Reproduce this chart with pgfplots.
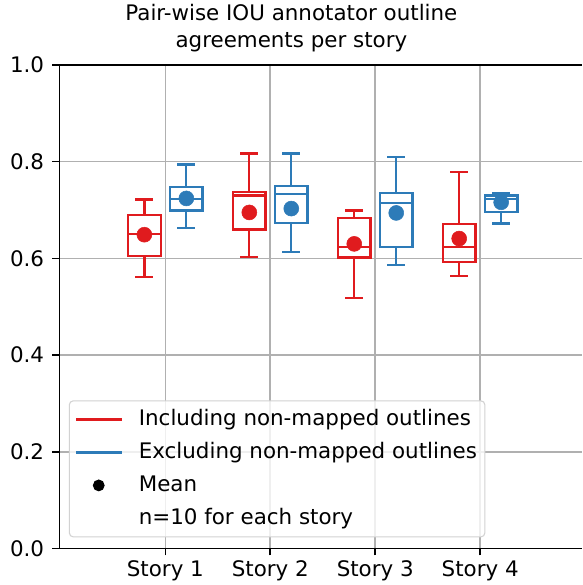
\documentclass[border=0pt]{standalone}
\usepackage{fontspec}
\setmainfont{DejaVu Sans}
\usepackage{pgfplots}
\pgfplotsset{compat=1.18}
\usepgfplotslibrary{statistics}
\definecolor{tabred}{RGB}{224,27,30}
\definecolor{tabblue}{RGB}{45,123,184}
\definecolor{gridgray}{RGB}{176,176,176}
\newcommand\ff{\fontsize{16}{20.25}\selectfont}
\pgfplotsset{
  longline/.style={legend image code/.code={\draw[##1, line width=2pt] (0pt,0pt) -- (34.5pt,0pt);}},
  dotimg/.style={legend image code/.code={\draw[##1, fill opacity=1] plot coordinates {(17pt,0pt)};}},
  bx/.style={forget plot, line width=1.7pt, boxplot prepared={draw direction=y, box extend=0.31, whisker extend=0.17, #1}},
}
\begin{document}
\begin{tikzpicture}
\begin{axis}[
  scale only axis, width=390.75pt, height=361.5pt,
  xmin=-0.01, xmax=4.97, ymin=0, ymax=1,
  axis x line=box, axis y line=left,
  axis line style={black, line width=1.2pt, -},
  xtick pos=bottom, ytick pos=left, tick align=outside,
  major tick length=5.25pt,
  tick style={black, line width=1.2pt},
  grid=major, major grid style={gridgray, line width=1.2pt},
  xtick={1,2,3,4}, xticklabels={Story 1,Story 2,Story 3,Story 4},
  ytick={0,0.2,0.4,0.6,0.8,1.0}, yticklabels={0.0,0.2,0.4,0.6,0.8,1.0},
  tick label style={font=\ff},
  yticklabel style={inner xsep=7.5pt, xshift=1.5pt},
  title={Pair-wise IOU annotator outline\\agreements per story},
  title style={font=\ff, align=center, at={(0.444,1)}, anchor=south},
  legend style={at={(0.018,0.0228)}, anchor=south west, font=\ff,
    fill=white, fill opacity=0.8, text opacity=1, draw=gray!35, line width=0.8pt,
    rounded corners=3pt, inner xsep=4pt, inner ysep=3.5pt, row sep=4.25pt,
    /tikz/every odd column/.append style={column sep=9.5pt},
    nodes={text height=13pt, text depth=3.5pt}},
  legend cell align=left,
]
% Including (red)
\addplot[tabred, bx={draw position=0.8, lower whisker=0.562, lower quartile=0.605, median=0.651, upper quartile=0.689, upper whisker=0.722}] coordinates {};
\addplot[tabred, bx={draw position=1.8, lower whisker=0.603, lower quartile=0.660, median=0.730, upper quartile=0.737, upper whisker=0.817}] coordinates {};
\addplot[tabred, bx={draw position=2.8, lower whisker=0.518, lower quartile=0.602, median=0.624, upper quartile=0.683, upper whisker=0.699}] coordinates {};
\addplot[tabred, bx={draw position=3.8, lower whisker=0.564, lower quartile=0.593, median=0.624, upper quartile=0.671, upper whisker=0.779}] coordinates {};
% Excluding (blue)
\addplot[tabblue, bx={draw position=1.2, lower whisker=0.663, lower quartile=0.699, median=0.723, upper quartile=0.748, upper whisker=0.794}] coordinates {};
\addplot[tabblue, bx={draw position=2.2, lower whisker=0.613, lower quartile=0.673, median=0.733, upper quartile=0.750, upper whisker=0.817}] coordinates {};
\addplot[tabblue, bx={draw position=3.2, lower whisker=0.586, lower quartile=0.624, median=0.714, upper quartile=0.735, upper whisker=0.809}] coordinates {};
\addplot[tabblue, bx={draw position=4.2, lower whisker=0.672, lower quartile=0.696, median=0.723, upper quartile=0.730, upper whisker=0.734}] coordinates {};
% Means
\addplot[forget plot, only marks, mark=*, mark size=5.6pt, color=tabred, mark options={fill=tabred, draw=tabred}] coordinates {(0.8,0.649) (1.8,0.695) (2.8,0.630) (3.8,0.641)};
\addplot[forget plot, only marks, mark=*, mark size=5.6pt, color=tabblue, mark options={fill=tabblue, draw=tabblue}] coordinates {(1.2,0.724) (2.2,0.703) (3.2,0.694) (4.2,0.716)};
% Legend
\addlegendimage{longline, tabred}
\addlegendentry{Including non-mapped outlines}
\addlegendimage{longline, tabblue}
\addlegendentry{Excluding non-mapped outlines}
\addlegendimage{dotimg, only marks, mark=*, mark size=4pt, black, mark options={fill=black}}
\addlegendentry{Mean}
\addlegendimage{empty legend}
\addlegendentry{n=10 for each story}
\end{axis}
\end{tikzpicture}
\end{document}
